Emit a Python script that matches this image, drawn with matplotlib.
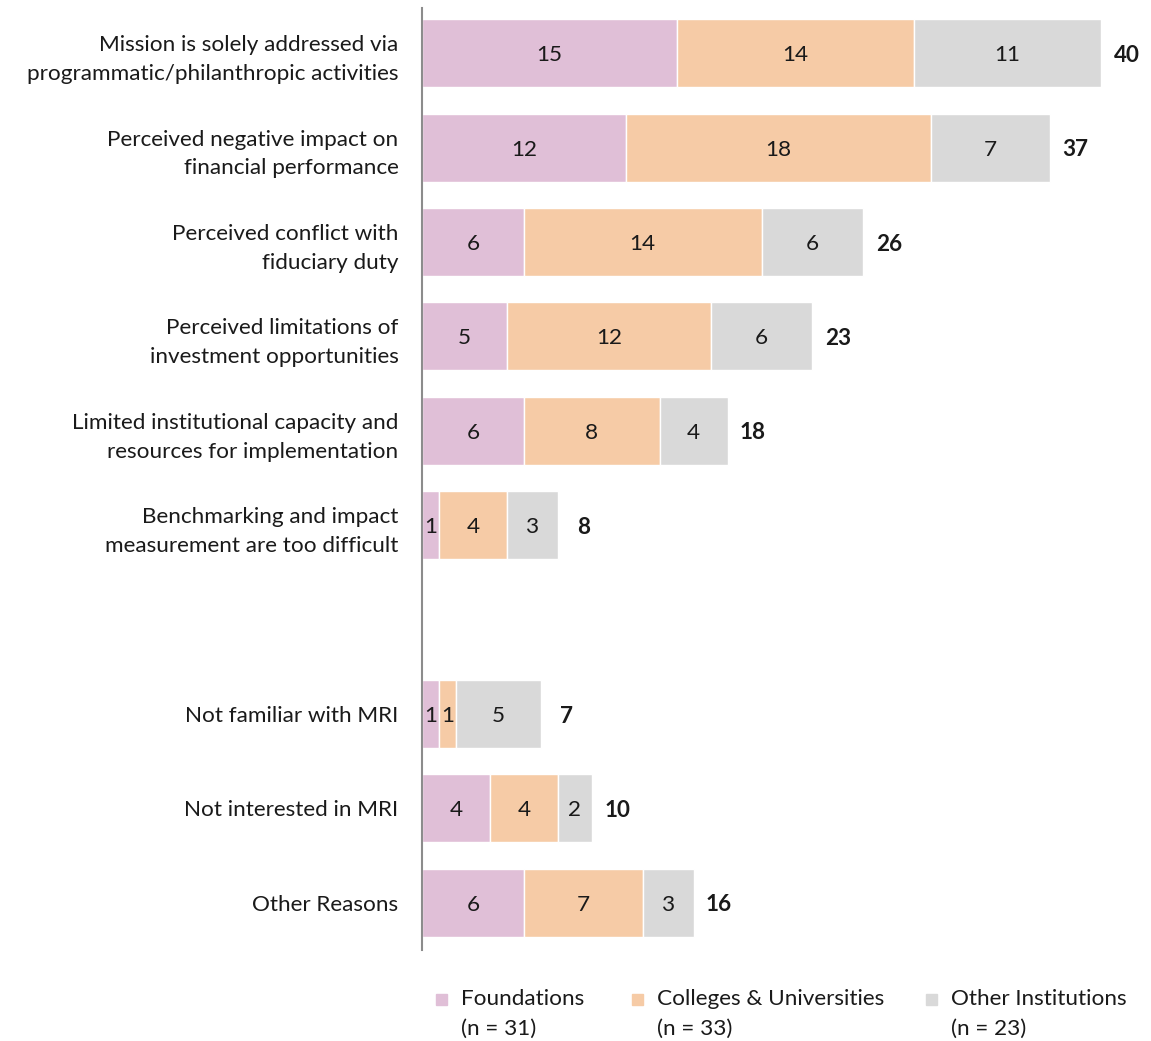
import matplotlib
matplotlib.use("Agg")
import matplotlib.pyplot as plt
from matplotlib.patches import Rectangle
import numpy as np

plt.rcParams['font.family'] = ['Lato', 'DejaVu Sans']

categories = [
    "Mission is solely addressed via\nprogrammatic/philanthropic activities",
    "Perceived negative impact on\nfinancial performance",
    "Perceived conflict with\nfiduciary duty",
    "Perceived limitations of\ninvestment opportunities",
    "Limited institutional capacity and\nresources for implementation",
    "Benchmarking and impact\nmeasurement are too difficult",
    "",
    "Not familiar with MRI",
    "Not interested in MRI",
    "Other Reasons",
]
foundations = [15, 12, 6, 5, 6, 1, None, 1, 4, 6]
colleges = [14, 18, 14, 12, 8, 4, None, 1, 4, 7]
others = [11, 7, 6, 6, 4, 3, None, 5, 2, 3]

series_names = ["Foundations", "Colleges & Universities", "Other Institutions"]
series_n = ["(n = 31)", "(n = 33)", "(n = 23)"]
colors = ["#E0BFD7", "#F6CBA6", "#D9D9D9"]

W, H = 1151, 1041
fig = plt.figure(figsize=(W / 100, H / 100), dpi=100)
ax = fig.add_axes([422 / W, 1 - 950 / H, (1101 - 422) / W, (950 - 8) / H])

fs = 16.2
txt = "#1a1a1a"
ypos = np.arange(len(categories))
for i, y in enumerate(ypos):
    if foundations[i] is None:
        continue
    vals = [foundations[i], colleges[i], others[i]]
    left = 0
    for v, c in zip(vals, colors):
        ax.barh(y, v, left=left, height=0.72, color=c, edgecolor="white", linewidth=1)
        ax.text(left + v / 2, y, str(v), ha="center", va="center_baseline",
                fontsize=fs, color=txt)
        left += v
    ax.text(left + 1.5, y, str(left), ha="center", va="center_baseline", fontsize=fs,
            fontweight="bold", color=txt, clip_on=False)

ax.set_xlim(0, 40)
ax.set_ylim(9.5, -0.48)
ax.set_yticks(ypos)
ax.set_yticklabels(categories, fontsize=fs, color=txt, linespacing=1.55)
ax.tick_params(axis="y", length=0, pad=17)
ax.set_xticks([])
for s in ["top", "right", "bottom"]:
    ax.spines[s].set_visible(False)
ax.spines["left"].set_color("#8c8c8c")
ax.spines["left"].set_linewidth(1.5)

# legend
leg_x = [436, 632, 926]
for x, name, n, c in zip(leg_x, series_names, series_n, colors):
    fig.patches.append(Rectangle((x / W, 1 - 1005 / H), 11 / W, 11 / H,
                                 transform=fig.transFigure, color=c))
    fig.text((x + 25) / W, 1 - 999 / H, name, fontsize=fs, va="center", ha="left", color=txt)
    fig.text((x + 25) / W, 1 - 1029 / H, n, fontsize=fs, va="center", ha="left", color=txt)

fig.savefig("out.png", dpi=100)
